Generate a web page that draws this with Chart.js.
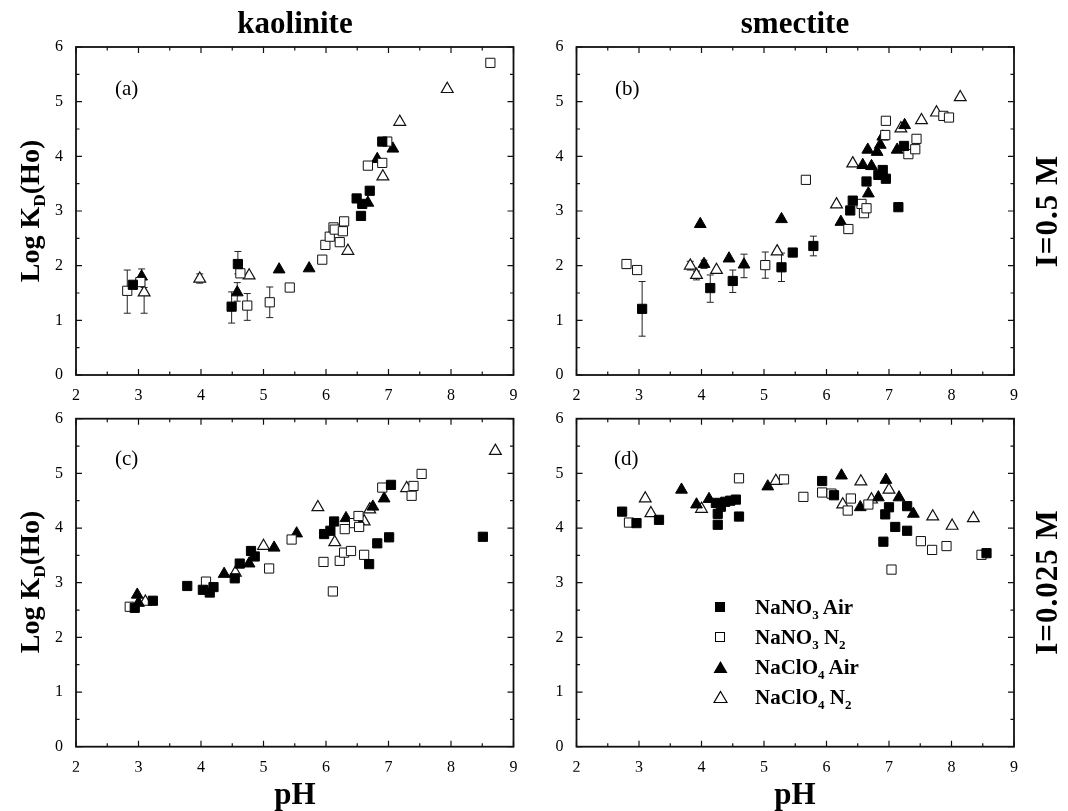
<!DOCTYPE html>
<html>
<head>
<meta charset="utf-8">
<script src="https://cdn.jsdelivr.net/npm/chart.js@4.4.1/dist/chart.umd.min.js"></script>
<style>
  body { margin: 0; background: #fff; }
  #wrap { position: relative; width: 1068px; height: 811px; overflow: hidden; font-family: "Liberation Serif", "Times New Roman", serif; color: #000; }
  canvas { position: absolute; }
  .t { position: absolute; transform: translate(-50%, -50%); white-space: nowrap; line-height: 1; font-weight: bold; }
  .rot { transform: translate(-50%, -50%) rotate(-90deg); }
  .pl { position: absolute; font-size: 21px; line-height: 1; }
  sub { font-size: 0.62em; vertical-align: -0.35em; line-height: 0; }
  .row { position: absolute; left: 713px; height: 30px; display: flex; align-items: center; font-weight: bold; font-size: 21px; white-space: nowrap; }
  .mk { width: 42px; height: 30px; display: flex; align-items: center; }
</style>
</head>
<body>
<div id="wrap">
  <canvas id="ca"></canvas>
  <canvas id="cb"></canvas>
  <canvas id="cc"></canvas>
  <canvas id="cd"></canvas>

  <div class="t" style="left:295px;top:22px;font-size:31px;">kaolinite</div>
  <div class="t" style="left:795px;top:22px;font-size:31px;">smectite</div>
  <div class="t" style="left:295px;top:793px;font-size:31px;">pH</div>
  <div class="t" style="left:795px;top:793px;font-size:31px;">pH</div>
  <div class="t rot" style="left:30px;top:211px;font-size:28px;">Log K<sub>D</sub>(Ho)</div>
  <div class="t rot" style="left:30px;top:582px;font-size:28px;">Log K<sub>D</sub>(Ho)</div>
  <div class="t rot" style="left:1046px;top:211px;font-size:31px;letter-spacing:1px;">I=0.5 M</div>
  <div class="t rot" style="left:1046px;top:582px;font-size:31px;letter-spacing:1px;">I=0.025 M</div>

  <div class="pl" style="left:115px;top:78px;">(a)</div>
  <div class="pl" style="left:615px;top:78px;">(b)</div>
  <div class="pl" style="left:115px;top:448px;">(c)</div>
  <div class="pl" style="left:614px;top:448px;">(d)</div>

  <div class="row" style="top:592px;"><span class="mk"><svg width="14" height="14"><rect x="2" y="2" width="10" height="10" fill="#000"/></svg></span><span>NaNO<sub>3</sub> Air</span></div>
  <div class="row" style="top:622px;"><span class="mk"><svg width="14" height="14"><rect x="2.5" y="2.5" width="9" height="9" fill="#fff" stroke="#000" stroke-width="1"/></svg></span><span>NaNO<sub>3</sub> N<sub>2</sub></span></div>
  <div class="row" style="top:652px;"><span class="mk"><svg width="15" height="14"><polygon points="7.5,1 14.5,13 0.5,13" fill="#000"/></svg></span><span>NaClO<sub>4</sub> Air</span></div>
  <div class="row" style="top:682px;"><span class="mk"><svg width="15" height="14"><polygon points="7.5,1.5 14,12.5 1,12.5" fill="#fff" stroke="#000" stroke-width="1.2"/></svg></span><span>NaClO<sub>4</sub> N<sub>2</sub></span></div>
</div>

<script>
// axis ticks
const pHTicks = [2, 3, 4, 5, 6, 7, 8, 9]
const logKTicks = [0, 1, 2, 3, 4, 5, 6]
const seriesNames = ['NaNO3 Air', 'NaNO3 N2', 'NaClO4 Air', 'NaClO4 N2']

// (a) kaolinite, I=0.5 M   [pH, log KD]
const aNO3Air = [[2.91,1.65],[4.59,2.03],[4.49,1.25],[6.49,3.23],[6.56,2.91],[6.58,3.13],[6.70,3.37],[6.90,4.27]]
const aNO3N2 = [[2.82,1.54],[3.03,1.70],[4.63,1.86],[4.74,1.27],[5.10,1.33],[5.42,1.60],[5.94,2.11],[5.99,2.38],[6.06,2.53],[6.12,2.70],[6.14,2.66],[6.22,2.43],[6.27,2.63],[6.29,2.81],[6.67,3.83],[6.90,3.88],[6.98,4.27],[8.63,5.71]]
const aClO4Air = [[3.05,1.80],[4.58,1.51],[5.25,1.93],[5.73,1.95],[6.67,3.15],[6.82,3.95],[7.07,4.14]]
const aClO4N2 = [[3.09,1.51],[3.98,1.76],[4.77,1.82],[6.35,2.27],[6.91,3.63],[7.18,4.63],[7.94,5.23]]
// error bars [pH, low, high]
const aErr = [[2.82,1.13,1.92],[3.05,1.65,1.94],[3.09,1.13,1.60],[3.98,1.68,1.85],[4.59,1.85,2.26],[4.49,0.95,1.52],[4.58,1.35,1.69],[4.74,1.00,1.49],[5.10,1.05,1.61],[5.42,1.55,1.65]]

// (b) smectite, I=0.5 M
const bNO3Air = [[3.05,1.21],[4.14,1.59],[4.50,1.72],[5.28,1.97],[5.46,2.24],[5.79,2.36],[6.38,3.01],[6.42,3.19],[6.64,3.54],[6.83,3.66],[6.90,3.75],[6.95,3.59],[7.15,3.07],[7.24,4.19]]
const bNO3N2 = [[2.80,2.03],[2.97,1.92],[5.02,2.01],[5.67,3.57],[6.35,2.67],[6.56,3.13],[6.60,2.96],[6.64,3.05],[6.94,4.39],[6.95,4.65],[7.31,4.04],[7.42,4.13],[7.44,4.32],[7.87,4.74],[7.96,4.71]]
const bClO4Air = [[3.98,2.76],[4.04,2.03],[4.44,2.13],[4.68,2.02],[5.28,2.85],[6.23,2.80],[6.58,3.84],[6.66,4.12],[6.67,3.32],[6.72,3.82],[6.81,4.08],[6.86,4.21],[6.90,4.36],[7.13,4.12],[7.25,4.57]]
const bClO4N2 = [[3.82,2.00],[3.92,1.83],[4.24,1.92],[5.21,2.26],[6.16,3.12],[6.42,3.87],[7.19,4.51],[7.52,4.66],[7.76,4.80],[8.14,5.08]]
const bErr = [[2.80,1.95,2.11],[3.05,0.71,1.71],[3.82,1.92,2.08],[3.92,1.74,1.90],[4.04,1.95,2.10],[4.14,1.33,1.83],[4.50,1.51,1.92],[4.68,1.78,2.21],[5.02,1.77,2.25],[5.28,1.71,2.23],[5.79,2.18,2.54]]

// (c) kaolinite, I=0.025 M
const cNO3Air = [[2.94,2.54],[3.23,2.67],[3.78,2.94],[4.03,2.87],[4.14,2.82],[4.20,2.92],[4.54,3.08],[4.62,3.35],[4.80,3.58],[4.86,3.48],[5.97,3.89],[6.07,3.95],[6.13,4.12],[6.69,3.34],[6.82,3.72],[7.01,3.83],[7.04,4.79],[8.51,3.84]]
const cNO3N2 = [[2.86,2.56],[4.08,3.02],[5.09,3.26],[5.45,3.79],[5.96,3.38],[6.11,2.84],[6.22,3.40],[6.29,3.55],[6.30,3.98],[6.40,3.58],[6.45,4.09],[6.52,4.22],[6.53,4.02],[6.61,3.51],[6.90,4.74],[7.37,4.59],[7.40,4.77],[7.53,4.99]]
const cClO4Air = [[2.98,2.78],[3.00,2.63],[4.37,3.16],[4.77,3.35],[5.17,3.64],[5.53,3.90],[6.32,4.18],[6.52,4.13],[6.75,4.39],[6.93,4.54]]
const cClO4N2 = [[3.11,2.65],[4.55,3.18],[5.00,3.67],[5.87,4.38],[6.14,3.74],[6.61,4.12],[6.70,4.34],[7.29,4.73],[8.71,5.41]]

// (d) smectite, I=0.025 M
const dNO3Air = [[2.73,4.30],[2.96,4.09],[3.32,4.15],[4.23,4.46],[4.26,4.26],[4.26,4.06],[4.31,4.39],[4.38,4.48],[4.46,4.50],[4.55,4.52],[4.60,4.21],[5.93,4.86],[6.12,4.60],[6.91,3.75],[6.94,4.25],[7.00,4.38],[7.10,4.02],[7.29,4.40],[7.29,3.95],[8.56,3.54]]
const dNO3N2 = [[2.84,4.10],[4.60,4.91],[5.32,4.89],[5.63,4.57],[5.93,4.65],[6.08,4.63],[6.34,4.32],[6.39,4.54],[6.67,4.43],[7.04,3.24],[7.51,3.76],[7.69,3.60],[7.92,3.67],[8.48,3.51]]
const dClO4Air = [[3.68,4.70],[3.92,4.43],[4.12,4.53],[5.06,4.76],[6.24,4.96],[6.54,4.38],[6.83,4.56],[6.95,4.88],[7.16,4.56],[7.39,4.26]]
const dClO4N2 = [[3.10,4.54],[3.19,4.27],[4.00,4.35],[5.19,4.86],[6.26,4.43],[6.55,4.85],[6.72,4.52],[7.00,4.70],[7.70,4.21],[8.01,4.04],[8.35,4.18]]

const FONT = '"Liberation Serif", "Times New Roman", serif'

const styles = [
  { pointStyle: 'rect', pointRadius: 6.5, backgroundColor: '#000', borderColor: '#000', borderWidth: 1 },
  { pointStyle: 'rect', pointRadius: 6.5, backgroundColor: '#fff', borderColor: '#111', borderWidth: 1 },
  { pointStyle: 'triangle', pointRadius: 6.8, backgroundColor: '#000', borderColor: '#000', borderWidth: 1 },
  { pointStyle: 'triangle', pointRadius: 6.8, backgroundColor: '#fff', borderColor: '#111', borderWidth: 1.2 },
]

function errPlugin(bars) {
  return {
    id: 'errBars',
    beforeDatasetsDraw(chart) {
      const { ctx, scales: { x, y } } = chart
      ctx.save()
      ctx.strokeStyle = '#222'
      ctx.lineWidth = 1
      bars.forEach(([px, lo, hi]) => {
        const cx = x.getPixelForValue(px)
        const y0 = y.getPixelForValue(lo)
        const y1 = y.getPixelForValue(hi)
        ctx.beginPath()
        ctx.moveTo(cx, y0); ctx.lineTo(cx, y1)
        ctx.moveTo(cx - 3.5, y0); ctx.lineTo(cx + 3.5, y0)
        ctx.moveTo(cx - 3.5, y1); ctx.lineTo(cx + 3.5, y1)
        ctx.stroke()
      })
      ctx.restore()
    }
  }
}

// frame around the plot area with inward ticks on all four sides
const framePlugin = {
  id: 'frameTicks',
  afterDatasetsDraw(chart) {
    const { ctx, chartArea: a, scales: { x, y } } = chart
    ctx.save()
    ctx.strokeStyle = '#111'
    ctx.lineWidth = 1.2
    ctx.beginPath()
    for (let i = 0; i < pHTicks.length; i++) {
      const vals = [pHTicks[i]]
      if (i < pHTicks.length - 1) vals.push((pHTicks[i] + pHTicks[i + 1]) / 2)
      vals.forEach((v, k) => {
        const len = k === 0 ? 6 : 3.5
        const px = x.getPixelForValue(v)
        ctx.moveTo(px, a.bottom); ctx.lineTo(px, a.bottom - len)
        ctx.moveTo(px, a.top); ctx.lineTo(px, a.top + len)
      })
    }
    for (let i = 0; i < logKTicks.length; i++) {
      const vals = [logKTicks[i]]
      if (i < logKTicks.length - 1) vals.push((logKTicks[i] + logKTicks[i + 1]) / 2)
      vals.forEach((v, k) => {
        const len = k === 0 ? 6 : 3.5
        const py = y.getPixelForValue(v)
        ctx.moveTo(a.left, py); ctx.lineTo(a.left + len, py)
        ctx.moveTo(a.right, py); ctx.lineTo(a.right - len, py)
      })
    }
    ctx.stroke()
    ctx.lineWidth = 1.8
    ctx.strokeRect(a.left, a.top, a.right - a.left, a.bottom - a.top)
    ctx.restore()
  }
}

function panel(id, left, top, w, h, pad, yWidth, sets, errs) {
  const cv = document.getElementById(id)
  cv.style.left = left + 'px'
  cv.style.top = top + 'px'
  cv.width = w
  cv.height = h
  return new Chart(cv, {
    type: 'scatter',
    data: {
      datasets: sets.map((s, i) => Object.assign({
        label: seriesNames[i],
        data: s.map((p) => ({ x: p[0], y: p[1] })),
        clip: false,
      }, styles[i]))
    },
    options: {
      responsive: false,
      animation: false,
      devicePixelRatio: 1,
      layout: { padding: pad },
      plugins: { legend: { display: false }, tooltip: { enabled: false } },
      scales: {
        x: {
          type: 'linear', min: 2, max: 9,
          afterBuildTicks: (s) => { s.ticks = pHTicks.map((v) => ({ value: v })) },
          afterFit: (s) => { s.height = 25 },
          grid: { display: false },
          border: { display: false },
          ticks: { color: '#000', font: { family: FONT, size: 16 }, padding: 3, maxRotation: 0 },
        },
        y: {
          type: 'linear', min: 0, max: 6,
          afterBuildTicks: (s) => { s.ticks = logKTicks.map((v) => ({ value: v })) },
          afterFit: (s) => { s.width = yWidth },
          grid: { display: false },
          border: { display: false },
          ticks: { color: '#000', font: { family: FONT, size: 16 }, padding: 5 },
        }
      }
    },
    plugins: [errPlugin(errs), framePlugin]
  })
}

panel('ca', 0, 0, 545, 400, { top: 47, right: 31.5, bottom: 0, left: 0 }, 76,
  [aNO3Air, aNO3N2, aClO4Air, aClO4N2], aErr)
panel('cb', 545, 0, 523, 400, { top: 47, right: 54, bottom: 0, left: 0 }, 31.5,
  [bNO3Air, bNO3N2, bClO4Air, bClO4N2], bErr)
panel('cc', 0, 400, 545, 411, { top: 18.7, right: 31.5, bottom: 39.3, left: 0 }, 76,
  [cNO3Air, cNO3N2, cClO4Air, cClO4N2], [])
panel('cd', 545, 400, 523, 411, { top: 18.7, right: 54, bottom: 39.3, left: 0 }, 31.5,
  [dNO3Air, dNO3N2, dClO4Air, dClO4N2], [])
</script>
</body>
</html>
